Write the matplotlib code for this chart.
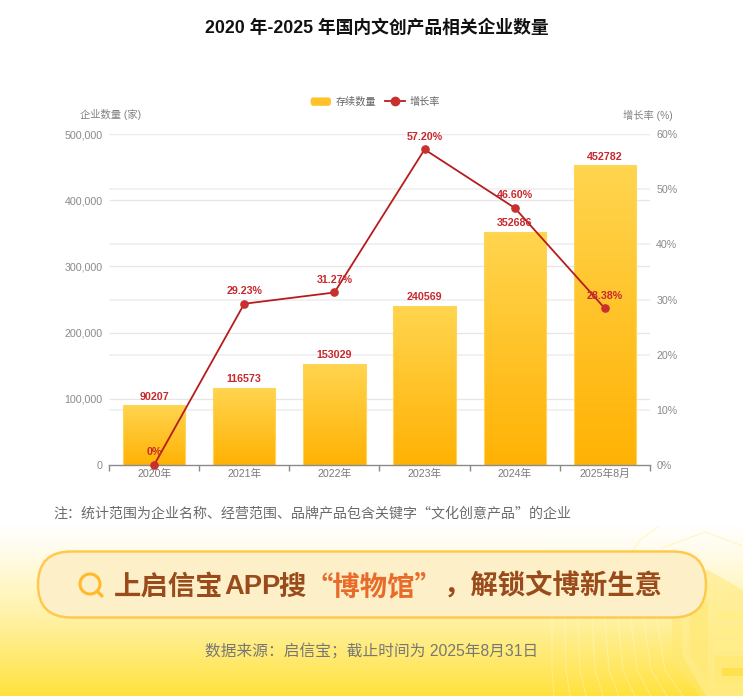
import numpy as np
import matplotlib
matplotlib.use("Agg")
import matplotlib.pyplot as plt
from matplotlib.colors import LinearSegmentedColormap
from matplotlib.lines import Line2D
from matplotlib.patches import Patch, FancyBboxPatch, Circle, Rectangle, Polygon
from matplotlib.legend_handler import HandlerPatch

LATIN = ['Liberation Sans', 'Noto Sans CJK SC', 'DejaVu Sans']
CJK = ['Noto Sans CJK SC', 'DejaVu Sans']
plt.rcParams['font.family'] = LATIN

categories = ['2020年', '2021年', '2022年', '2023年', '2024年', '2025年8月']
companies = [90207, 116573, 153029, 240569, 352686, 452782]
growth = [0, 29.23, 31.27, 57.20, 46.60, 28.38]
growth_labels = ['0%', '29.23%', '31.27%', '57.20%', '46.60%', '28.38%']
left_ticks = [0, 100000, 200000, 300000, 400000, 500000]
right_ticks = [0, 10, 20, 30, 40, 50, 60]

W, H = 743, 696
fig = plt.figure(figsize=(W / 100, H / 100), dpi=100)
fig.patch.set_facecolor('white')

# page background and decoration, in pixel coordinates
bg = fig.add_axes([0, 0, 1, 1], zorder=0)
bg.axis('off')
bg_cmap = LinearSegmentedColormap.from_list(
    'bg', [(0, '#FFFFFF'), (0.12, '#FFFDF0'), (0.5, '#FFF3AE'), (1, '#FFE23E')])
grad = np.linspace(0, 1, 256).reshape(-1, 1)
bg.imshow(grad, extent=(0, W, 696, 525), cmap=bg_cmap, aspect='auto', zorder=0)
bg.set_xlim(0, W)
bg.set_ylim(H, 0)

for i, x in enumerate([552, 565, 578, 592, 605, 618, 631, 644, 657]):
    bg.plot([x, x, x + i, x + 2 + i * 3], [526, 620, 670, 696], color='#FFFFFF', lw=0.7, alpha=0.3, zorder=1)
# faint roof outline
bg.plot([632, 640, 658], [552, 540, 527], color='#FFF6C0', lw=0.8, zorder=1)
bg.plot([662, 705, 743], [548, 532, 546], color='#FFF6C0', lw=0.8, zorder=1)
# shield watermark
bg.add_patch(Polygon([(672, 590), (708, 570), (743, 590), (743, 696), (700, 696), (672, 660)], closed=True,
                     facecolor='#FFE873', edgecolor='none', alpha=0.5, zorder=1))
bg.add_patch(Polygon([(682, 600), (708, 585), (743, 600), (743, 696), (706, 696), (682, 655)], closed=True,
                     facecolor='#FFF09A', edgecolor='none', alpha=0.55, zorder=1))
bg.add_patch(Polygon([(690, 612), (708, 600), (708, 688), (690, 655)], closed=True,
                     facecolor='#FFE873', edgecolor='none', alpha=0.6, zorder=1))
for y0 in [611, 626, 641]:
    bg.add_patch(Rectangle((715, y0), 28, 9, facecolor='#FFEE8A', edgecolor='none', zorder=1.2))
bg.add_patch(Rectangle((715, 656), 28, 29, facecolor='#FFEA78', edgecolor='none', zorder=1.2))
bg.add_patch(Rectangle((722, 668), 21, 8, facecolor='#FFE04E', edgecolor='none', zorder=1.3))

pill = FancyBboxPatch((51, 564.5), 642, 40, boxstyle='round,pad=13,rounding_size=33',
                      facecolor='#FDF0C9', edgecolor='#FFC94F', lw=1.8, zorder=2)
bg.add_patch(pill)
bg.add_patch(Circle((90, 584), 10, facecolor='none', edgecolor='#FFBA2C', lw=2.2, zorder=3))
bg.plot([98, 102], [592, 596], color='#FFBA2C', lw=2.4, solid_capstyle='round', zorder=3)

brown, orange = '#9A4B1C', '#E96B2A'
for x, s, c in [(114, '上启信宝', brown), (224, 'APP', brown), (278, '搜', brown),
                (306, '“博物馆”', orange), (444, '，解锁文博新生意', brown)]:
    bg.text(x, 587, s, color=c, fontsize=19.7, fontweight='bold', ha='left', va='center', zorder=4,
            family=LATIN if s == 'APP' else CJK)

bg.text(377, 28, '2020 年-2025 年国内文创产品相关企业数量', fontsize=12.8, fontweight='bold',
        color='#111111', ha='center', va='center', zorder=4)
bg.text(53, 513, '注：统计范围为企业名称、经营范围、品牌产品包含关键字“文化创意产品”的企业', fontsize=10.05,
        style='italic', color='#6A6A6A', ha='left', va='center', zorder=4, family=CJK)
bg.text(372, 651, '数据来源：启信宝；截止时间为 2025年8月31日', fontsize=11.3,
        color='#777777', ha='center', va='center', zorder=4)

# chart axes
pos = [109 / W, 1 - 465 / H, (650 - 109) / W, (465 - 134) / H]
ax = fig.add_axes(pos, zorder=1)
ax.patch.set_alpha(0)
ax2 = ax.twinx()
ax2.set_zorder(2)
ax2.patch.set_alpha(0)

x = np.arange(len(categories))

ax.set_xticks(x, categories)
ax.set_xticks(np.arange(len(categories) + 1) - 0.5, minor=True)
ax.tick_params(axis='x', which='major', length=0, labelsize=7.7, labelcolor='#7A7A7A', pad=3)
ax.tick_params(axis='x', which='minor', length=4, width=1, color='#8A8A8A')
ax.set_yticks(left_ticks, [f'{v:,}' for v in left_ticks])
ax.tick_params(axis='y', length=0, labelsize=7.7, labelcolor='#8A8A8A', pad=4.5)
ax2.set_yticks(right_ticks, [f'{v}%' for v in right_ticks])
ax2.tick_params(axis='y', length=0, labelsize=7.7, labelcolor='#8A8A8A', pad=4.5)

for a in (ax, ax2):
    for side in ('top', 'left', 'right', 'bottom'):
        a.spines[side].set_visible(False)
ax.spines['bottom'].set_visible(True)
ax.spines['bottom'].set_color('#8A8A8A')
ax.spines['bottom'].set_linewidth(1)

ax.hlines(left_ticks[1:], 0, 1, transform=ax.get_yaxis_transform(), color='#E6E6E6', lw=0.9, zorder=0.5)
ax.hlines(right_ticks[1:], 0, 1, transform=ax2.get_yaxis_transform(), color='#EEEEEE', lw=1.1, zorder=0.5)

bar_cmap = LinearSegmentedColormap.from_list('bar', ['#FFD54F', '#FFB204'], N=1024)
bars = ax.bar(x, companies, width=0.69, facecolor='none', edgecolor='#FFD45C', lw=0.8, zorder=2)
for b, v in zip(bars, companies):
    im = ax.imshow(np.linspace(0, 1, 512).reshape(-1, 1), cmap=bar_cmap, aspect='auto', zorder=1.5,
                   extent=(b.get_x(), b.get_x() + b.get_width(), 0, v))
    im.set_clip_path(b)
ax.set_xlim(-0.5, len(categories) - 0.5)
ax.set_ylim(0, 500000)
ax2.set_ylim(0, 60)

red = '#C9282D'
ax2.plot(x, growth, color='#B71C1C', lw=1.3, marker='o', ms=5.2, mfc='#C8302F', mec='#C8302F',
         zorder=3, clip_on=False)
for xi, v, lab in zip(x, growth, growth_labels):
    ax2.annotate(lab, (xi, v), xytext=(0, 5.5), textcoords='offset points', ha='center', va='bottom',
                 fontsize=7.7, fontweight='bold', color=red, zorder=5)
for xi, v in zip(x, companies):
    ax2.annotate(str(v), (xi, v / 500000 * 60), xytext=(0, 2.5), textcoords='offset points', ha='center',
                 va='bottom', fontsize=7.7, fontweight='bold', color=red, zorder=5)

bg.text(80, 115, '企业数量 (家)', fontsize=7.4, color='#808080', ha='left', va='center', zorder=4)
bg.text(673, 115, '增长率 (%)', fontsize=7.4, color='#808080', ha='right', va='center', zorder=4)


def rounded_swatch(legend, orig_handle, xdescent, ydescent, width, height, fontsize):
    return FancyBboxPatch((-xdescent + 1.5, -ydescent + 1.5), width - 3, height - 3,
                          boxstyle='round,pad=1.5,rounding_size=2',
                          facecolor='#FFC22B', edgecolor='#FFE08A', lw=0.5)


handles = [Patch(facecolor='#FFC22B', label='存续数量'),
           Line2D([], [], color='#B71C1C', lw=1.3, marker='o', ms=6, mfc='#C8302F', mec='#C8302F', label='增长率')]
leg = fig.legend(handles=handles, loc='center', bbox_to_anchor=(375.5 / W, 1 - 102 / H), ncol=2, frameon=False,
                 fontsize=7.3, handlelength=2.0, handleheight=0.9, handletextpad=0.45, columnspacing=0.9,
                 labelcolor='#666666', handler_map={Patch: HandlerPatch(patch_func=rounded_swatch)})

fig.savefig('out.png', dpi=100)
